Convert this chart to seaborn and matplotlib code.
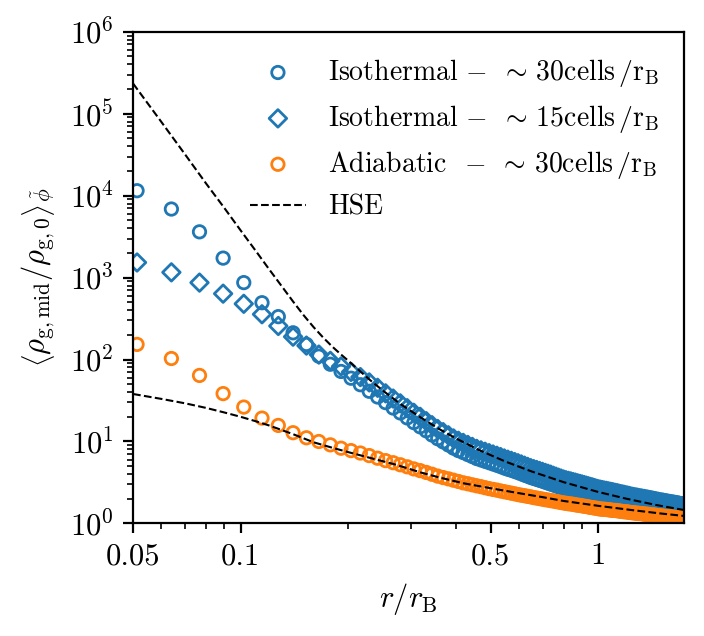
import matplotlib
matplotlib.use("Agg")
import matplotlib.pyplot as plt
import seaborn as sns
from matplotlib.ticker import LogLocator, NullFormatter

# radial sample points (units of r_B), shared by the three runs
r = [0.0513, 0.0640, 0.0767, 0.0893, 0.1020, 0.1147, 0.1274, 0.1401, 0.1527, 0.1654,
     0.1781, 0.1908, 0.2035, 0.2161, 0.2288, 0.2415, 0.2542, 0.2669, 0.2795, 0.2922,
     0.3049, 0.3176, 0.3303, 0.3429, 0.3556, 0.3683, 0.3810, 0.3937, 0.4063, 0.4190,
     0.4317, 0.4444, 0.4571, 0.4697, 0.4824, 0.4951, 0.5078, 0.5205, 0.5331, 0.5458,
     0.5585, 0.5712, 0.5839, 0.5965, 0.6092, 0.6219, 0.6346, 0.6473, 0.6599, 0.6726,
     0.6853, 0.6980, 0.7107, 0.7233, 0.7360, 0.7487, 0.7614, 0.7741, 0.7867, 0.7994,
     0.8121, 0.8248, 0.8375, 0.8501, 0.8628, 0.8755, 0.8882, 0.9009, 0.9135, 0.9262,
     0.9389, 0.9516, 0.9643, 0.9769, 0.9896, 1.0023, 1.0150, 1.0277, 1.0403, 1.0530,
     1.0657, 1.0784, 1.0911, 1.1037, 1.1164, 1.1291, 1.1418, 1.1545, 1.1671, 1.1798,
     1.1925, 1.2052, 1.2179, 1.2305, 1.2432, 1.2559, 1.2686, 1.2813, 1.2939, 1.3066,
     1.3193, 1.3320, 1.3447, 1.3573, 1.3700, 1.3827, 1.3954, 1.4081, 1.4207, 1.4334,
     1.4461, 1.4588, 1.4715, 1.4841, 1.4968, 1.5095, 1.5222, 1.5349, 1.5475, 1.5602,
     1.5729, 1.5856, 1.5983, 1.6109, 1.6236, 1.6363, 1.6490, 1.6617, 1.6743, 1.6870,
     1.6997, 1.7124, 1.7251, 1.7377]

iso_30 = [11500, 6870, 3620, 1730, 869, 494, 334, 212, 153, 110,
          87.7, 71.6, 59.2, 49.3, 41.0, 34.9, 29.8, 25.6, 22.3, 19.4,
          17.0, 15.1, 13.5, 12.0, 10.8, 9.89, 9.06, 8.30, 7.74, 7.33,
          6.92, 6.55, 6.19, 5.96, 5.73, 5.52, 5.32, 5.13, 4.94, 4.75,
          4.59, 4.46, 4.31, 4.17, 4.03, 3.89, 3.77, 3.64, 3.54, 3.45,
          3.36, 3.28, 3.19, 3.11, 3.03, 2.96, 2.88, 2.81, 2.74, 2.67,
          2.62, 2.58, 2.55, 2.51, 2.47, 2.43, 2.40, 2.36, 2.33, 2.29,
          2.26, 2.22, 2.19, 2.16, 2.13, 2.10, 2.08, 2.06, 2.04, 2.02,
          2.01, 1.99, 1.97, 1.95, 1.94, 1.92, 1.91, 1.89, 1.87, 1.85,
          1.84, 1.82, 1.81, 1.79, 1.77, 1.76, 1.75, 1.74, 1.73, 1.71,
          1.70, 1.69, 1.68, 1.67, 1.66, 1.65, 1.64, 1.63, 1.62, 1.61,
          1.60, 1.59, 1.58, 1.57, 1.56, 1.55, 1.55, 1.54, 1.53, 1.53,
          1.52, 1.51, 1.51, 1.50, 1.49, 1.49, 1.48, 1.47, 1.46, 1.46,
          1.45, 1.44, 1.44, 1.43]

iso_15 = [1530, 1160, 869, 637, 479, 357, 257, 190, 148, 115,
          96.4, 82.4, 70.6, 61.1, 52.6, 45.2, 38.7, 33.4, 29.2, 25.5,
          22.4, 20.0, 17.7, 15.8, 14.2, 13.0, 11.9, 10.9, 10.2, 9.62,
          9.08, 8.59, 8.13, 7.80, 7.50, 7.21, 6.95, 6.70, 6.46, 6.21,
          6.00, 5.81, 5.61, 5.43, 5.25, 5.07, 4.90, 4.73, 4.60, 4.49,
          4.37, 4.26, 4.14, 4.04, 3.94, 3.82, 3.72, 3.62, 3.53, 3.44,
          3.37, 3.31, 3.26, 3.20, 3.15, 3.09, 3.04, 2.99, 2.94, 2.89,
          2.84, 2.79, 2.75, 2.70, 2.65, 2.61, 2.58, 2.55, 2.52, 2.50,
          2.47, 2.44, 2.42, 2.39, 2.36, 2.34, 2.31, 2.28, 2.26, 2.24,
          2.21, 2.19, 2.17, 2.14, 2.12, 2.10, 2.08, 2.07, 2.05, 2.03,
          2.02, 2.00, 1.99, 1.97, 1.96, 1.94, 1.93, 1.91, 1.90, 1.88,
          1.87, 1.85, 1.84, 1.82, 1.81, 1.80, 1.79, 1.77, 1.77, 1.75,
          1.74, 1.73, 1.72, 1.71, 1.70, 1.69, 1.68, 1.67, 1.66, 1.65,
          1.63, 1.63, 1.62, 1.60]

adi_30 = [153, 103, 64.0, 38.4, 26.3, 19.3, 15.7, 12.8, 11.1, 10.0,
          9.10, 8.28, 7.74, 7.23, 6.73, 6.25, 5.84, 5.51, 5.20, 4.91,
          4.63, 4.41, 4.19, 3.98, 3.78, 3.63, 3.50, 3.37, 3.25, 3.13,
          3.05, 2.96, 2.88, 2.81, 2.73, 2.66, 2.60, 2.55, 2.49, 2.44,
          2.39, 2.34, 2.30, 2.25, 2.21, 2.18, 2.14, 2.11, 2.07, 2.04,
          2.01, 1.98, 1.95, 1.93, 1.90, 1.88, 1.85, 1.83, 1.80, 1.78,
          1.76, 1.74, 1.73, 1.71, 1.69, 1.67, 1.66, 1.64, 1.62, 1.61,
          1.59, 1.57, 1.56, 1.54, 1.53, 1.51, 1.50, 1.49, 1.49, 1.48,
          1.47, 1.46, 1.45, 1.44, 1.44, 1.43, 1.42, 1.41, 1.40, 1.39,
          1.39, 1.38, 1.37, 1.36, 1.35, 1.35, 1.34, 1.33, 1.33, 1.32,
          1.32, 1.31, 1.30, 1.30, 1.29, 1.29, 1.28, 1.27, 1.27, 1.26,
          1.26, 1.25, 1.24, 1.24, 1.23, 1.23, 1.22, 1.22, 1.21, 1.21,
          1.20, 1.20, 1.20, 1.19, 1.19, 1.18, 1.18, 1.17, 1.17, 1.17,
          1.16, 1.16, 1.15, 1.15]

# hydrostatic-equilibrium profiles
hse_iso_r = [0.05, 0.06, 0.07, 0.08, 0.09, 0.10, 0.11, 0.12, 0.13, 0.14, 0.15, 0.16,
             0.17, 0.18, 0.19, 0.20, 0.23, 0.25, 0.28, 0.32, 0.36, 0.40, 0.465, 0.55,
             0.65, 0.80, 1.0, 1.2, 1.45, 1.75]
hse_iso = [234000, 79400, 31600, 14100, 7080, 3760, 2140, 1270, 794, 513, 347, 248,
           186, 145, 117, 96.6, 56.2, 41.7, 28.6, 19.4, 14.1, 10.9, 7.83, 5.69,
           4.32, 3.19, 2.42, 2.00, 1.68, 1.45]

hse_adi_r = [0.05, 0.06, 0.07, 0.08, 0.09, 0.10, 0.11, 0.12, 0.14, 0.16, 0.18, 0.20,
             0.23, 0.27, 0.32, 0.36, 0.42, 0.50, 0.60, 0.70, 0.80, 1.0, 1.25, 1.5, 1.75]
hse_adi = [38.0, 33.1, 29.2, 25.7, 22.6, 20.0, 17.7, 15.7, 12.3, 9.77, 8.41, 7.41,
           6.31, 5.25, 4.17, 3.63, 3.09, 2.69, 2.34, 2.09, 1.88, 1.64, 1.45, 1.32, 1.23]

LABELS = [
    r"Isothermal$\,-\ \sim\,30\mathrm{cells}\,/\mathrm{r_B}$",
    r"Isothermal$\,-\ \sim\,15\mathrm{cells}\,/\mathrm{r_B}$",
    r"Adiabatic $\,-\ \sim\,30\mathrm{cells}\,/\mathrm{r_B}$",
    "HSE",
]


def main():
    plt.rcParams.update({
        "font.family": "serif",
        "font.serif": ["cmr10"],
        "mathtext.fontset": "cm",
        "axes.formatter.use_mathtext": True,
        "font.size": 11,
    })

    fig = plt.figure(figsize=(3.52, 3.18), dpi=200)
    ax = fig.add_axes([0.189, 0.177, 0.783, 0.773])

    mk = dict(s=20, facecolor="none", linewidth=1.0, ax=ax)
    sns.scatterplot(x=r, y=iso_30, marker="o", edgecolor="C0", label=LABELS[0], **mk)
    sns.scatterplot(x=r, y=iso_15, marker="D", edgecolor="C0", label=LABELS[1], **mk)
    sns.scatterplot(x=r, y=adi_30, marker="o", edgecolor="C1", label=LABELS[2], **mk)
    sns.lineplot(x=hse_iso_r, y=hse_iso, color="k", linestyle="--", linewidth=0.75,
                 label=LABELS[3], ax=ax)
    sns.lineplot(x=hse_adi_r, y=hse_adi, color="k", linestyle="--", linewidth=0.75,
                 label="_nolegend_", ax=ax)

    ax.set_xscale("log")
    ax.set_yscale("log")
    ax.set_xlim(0.05, 1.74)
    ax.set_ylim(1, 1e6)

    ax.set_xticks([0.05, 0.1, 0.5, 1], labels=["0.05", "0.1", "0.5", "1"])
    ax.xaxis.set_minor_locator(LogLocator(base=10, subs=range(2, 10)))
    ax.xaxis.set_minor_formatter(NullFormatter())
    ax.yaxis.set_major_locator(LogLocator(base=10, numticks=10))
    ax.yaxis.set_minor_locator(LogLocator(base=10, subs=range(2, 10), numticks=20))

    ax.set_xlabel(r"$r/r_{\rm B}$")
    ax.set_ylabel(r"$\left\langle\rho_{\rm g,mid}/\rho_{\rm g,0}\right\rangle_{\tilde{\phi}}$")

    handles, labels = ax.get_legend_handles_labels()
    order = [labels.index(l) for l in LABELS]
    ax.legend([handles[i] for i in order], [labels[i] for i in order],
              loc="upper right", frameon=False, fontsize=10, scatterpoints=1,
              labelspacing=0.5)

    fig.savefig("out.png", dpi=200)
    plt.close(fig)


if __name__ == "__main__":
    main()
